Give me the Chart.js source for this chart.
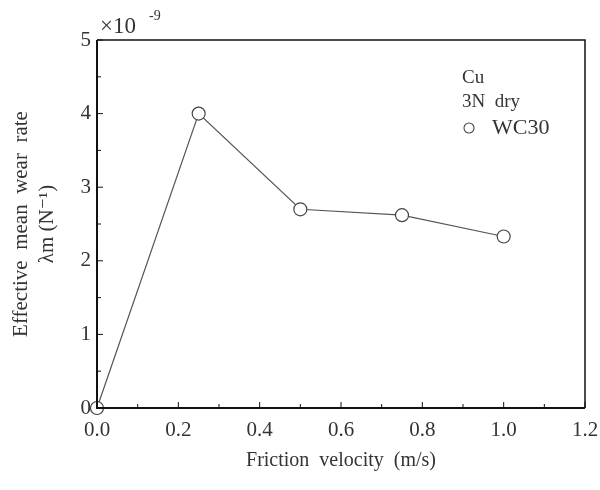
<!DOCTYPE html>
<html>
<head>
<meta charset="utf-8">
<script src="https://cdn.jsdelivr.net/npm/chart.js@4.4.1/dist/chart.umd.min.js"></script>
<style>
  body { margin: 0; background: #fff; }
  #wrap { width: 600px; height: 490px; }
</style>
</head>
<body>
<div id="wrap"><canvas id="wearChart" width="600" height="490"></canvas></div>
<script>
// data (wear rate in units of 1e-9 N^-1)
const velocity = [0, 0.25, 0.5, 0.75, 1.0];
const wearRate = [0, 4.0, 2.7, 2.62, 2.33];
const xTicks = [0, 0.2, 0.4, 0.6, 0.8, 1.0, 1.2];
const yTicks = [0, 1, 2, 3, 4, 5];
const notes = ["Cu", "3N  dry"];
const seriesName = "WC30";

const serif = "'Liberation Serif', 'DejaVu Serif', serif";
const ink = "#333";

// frame, inward ticks, exponent and in-plot legend
const framePlugin = {
  id: "frame",
  afterDraw(chart) {
    const ctx = chart.ctx;
    const a = chart.chartArea;
    const xs = chart.scales.x;
    const ys = chart.scales.y;
    ctx.save();
    ctx.strokeStyle = "#111";
    ctx.lineWidth = 1.5;
    ctx.beginPath();
    ctx.moveTo(a.left, a.top);
    ctx.lineTo(a.right, a.top);
    ctx.lineTo(a.right, a.bottom);
    ctx.stroke();
    ctx.lineWidth = 2;
    ctx.beginPath();
    ctx.moveTo(a.left, a.top);
    ctx.lineTo(a.left, a.bottom);
    ctx.lineTo(a.right, a.bottom);
    ctx.stroke();

    ctx.lineWidth = 1;
    ctx.beginPath();
    for (let v = 0; v <= 1.2001; v += 0.1) {
      const px = xs.getPixelForValue(v);
      const major = Math.round(v * 10) % 2 === 0;
      ctx.moveTo(px, a.bottom);
      ctx.lineTo(px, a.bottom - (major ? 6 : 4));
    }
    for (let v = 0; v <= 5.001; v += 0.5) {
      const py = ys.getPixelForValue(v);
      const major = Math.round(v * 2) % 2 === 0;
      ctx.moveTo(a.left, py);
      ctx.lineTo(a.left + (major ? 6 : 4), py);
    }
    ctx.stroke();

    ctx.fillStyle = ink;
    ctx.textBaseline = "middle";
    ctx.textAlign = "left";
    ctx.font = "23px " + serif;
    ctx.fillText("\u00d710", a.left + 3, a.top - 13);
    ctx.font = "14px " + serif;
    ctx.fillText("-9", a.left + 52, a.top - 24);

    ctx.font = "19px " + serif;
    ctx.fillText(notes[0], 462, 78);
    ctx.fillText(notes[1], 462, 102);
    ctx.font = "22px " + serif;
    ctx.fillText(seriesName, 492, 128);
    ctx.strokeStyle = "#444";
    ctx.lineWidth = 1.1;
    ctx.beginPath();
    ctx.arc(469, 128, 5, 0, Math.PI * 2);
    ctx.stroke();
    ctx.restore();
  }
};

const ctx = document.getElementById("wearChart").getContext("2d");
new Chart(ctx, {
  type: "scatter",
  data: {
    datasets: [
      {
        label: seriesName,
        data: velocity.map((v, i) => ({ x: v, y: wearRate[i] })),
        showLine: true,
        borderColor: "#555",
        borderWidth: 1.2,
        pointRadius: 6.5,
        pointBackgroundColor: "#fff",
        pointBorderColor: "#444",
        pointBorderWidth: 1.2,
        clip: false,
      },
    ],
  },
  options: {
    responsive: false,
    animation: false,
    layout: { padding: { top: 40, right: 15, left: 0, bottom: 0 } },
    plugins: { legend: { display: false }, tooltip: { enabled: false } },
    scales: {
      x: {
        type: "linear",
        min: 0,
        max: 1.2,
        afterBuildTicks(scale) {
          scale.ticks = xTicks.map((v) => ({ value: v }));
        },
        afterFit(scale) {
          scale.height = 82;
          scale.paddingLeft = 0;
          scale.paddingRight = 0;
        },
        grid: { display: false, drawTicks: false },
        border: { display: false },
        ticks: {
          color: ink,
          font: { family: serif, size: 21 },
          padding: 10,
          maxRotation: 0,
          callback: (v) => v.toFixed(1),
        },
        title: {
          display: true,
          text: "Friction  velocity  (m/s)",
          color: ink,
          font: { family: serif, size: 20 },
          padding: { top: 0, bottom: 17 },
        },
      },
      y: {
        type: "linear",
        min: 0,
        max: 5,
        afterBuildTicks(scale) {
          scale.ticks = yTicks.map((v) => ({ value: v }));
        },
        afterFit(scale) {
          scale.width = 97;
        },
        grid: { display: false, drawTicks: false },
        border: { display: false },
        ticks: {
          color: ink,
          font: { family: serif, size: 21 },
          padding: 6,
        },
        title: {
          display: true,
          text: ["Effective  mean  wear  rate", "\u03bbm (N\u207b\u00b9)"],
          color: ink,
          font: { family: serif, size: 21, lineHeight: 1.25 },
          padding: { top: 8, bottom: 0 },
        },
      },
    },
  },
  plugins: [framePlugin],
});
</script>
</body>
</html>
